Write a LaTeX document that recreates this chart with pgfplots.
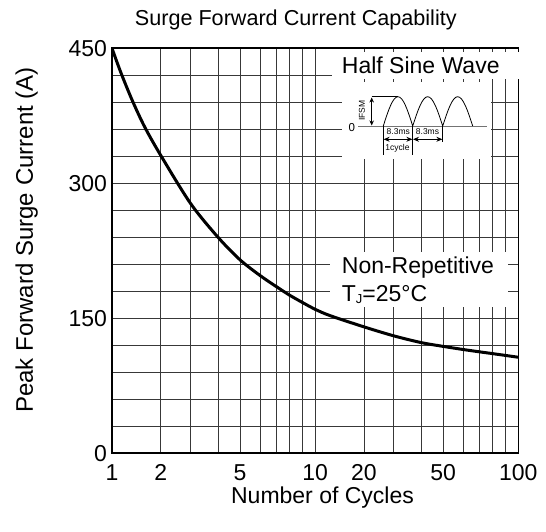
\documentclass[border=0pt]{standalone}
\usepackage{fontspec}
\setmainfont{Liberation Sans}
\usepackage{pgfplots}
\usepackage{pgfplotstable}
\pgfplotsset{compat=1.18}
\usetikzlibrary{arrows.meta}

% columns: number of cycles, position on the chart's (non-logarithmic) cycle scale, current
\pgfplotstableread{
n pos I
1 0 450
1.2 0.042 424
1.45 0.098 393
1.7 0.160 363
2 0.240 331
3 0.387 277.5
4 0.522 240
5 0.630 215
6 0.729 197.5
7 0.807 185.5
8 0.872 176
9 0.938 167.5
10 1.000 160
13 1.073 153
20 1.240 140.5
30 1.387 130.5
40 1.522 123
50 1.630 118.8
60 1.729 115.3
70 1.807 112.8
80 1.872 110.8
90 1.938 108.7
100 2.000 106.7
}\surge

\newcommand{\bigfnt}{\fontsize{23}{27}\selectfont}
\newcommand{\smallfnt}{\fontsize{8.5}{10}\selectfont}

\begin{document}
\begin{tikzpicture}
\begin{axis}[
  name=ax,
  at={(0,0)}, anchor=south west,
  width=406.3pt, height=405pt, scale only axis,
  xmin=0, xmax=2, ymin=0, ymax=450,
  xtick={0,0.240,0.387,0.522,0.630,0.729,0.807,0.872,0.938,1,1.240,1.387,1.522,1.630,1.729,1.807,1.872,1.938,2},
  xticklabels={1,2,,,5,,,,,10,20,,,50,,,,,100},
  ytick={0,30,...,450},
  yticklabels={0,,,,,150,,,,,300,,,,,450},
  grid=major,
  major grid style={black!78, line width=0.8pt},
  axis line style={black, line width=1.6pt},
  tick style={draw=none},
  /pgf/number format/assume math mode=true,
  ticklabel style={font=\bigfnt},
  xticklabel style={yshift=-8pt},
  yticklabel style={xshift=-1.5pt},
]
\addplot[black, line width=3pt, smooth] table[x=pos, y=I] {\surge};
\end{axis}

\begin{scope}[x=1pt, y=-1pt, shift={(-112pt,453.3pt)}]
  % white label boxes over the grid
  \fill[white] (331.7,52) rectangle (521,79);
  \fill[white] (341.7,82.5) rectangle (491,159.5);
  \fill[white] (330,252) rectangle (507.5,306.7);

  % titles and labels
  \node[anchor=base, inner sep=0pt, font=\fontsize{21.6}{25}\selectfont] at (295.8,25.5) {Surge Forward Current Capability};
  \node[anchor=base, inner sep=0pt, font=\bigfnt] at (322.5,504) {Number of Cycles};
  \node[anchor=base, rotate=90, inner sep=0pt, font=\fontsize{24}{28}\selectfont] at (33,240) {Peak Forward Surge Current (A)};

  \node[anchor=base west, inner sep=0pt, font=\bigfnt] at (341.7,73.3) {Half Sine Wave};
  \node[anchor=base west, inner sep=0pt, font=\bigfnt] at (341.7,273.3) {Non-Repetitive};
  \node[anchor=base west, inner sep=0pt, font=\bigfnt] at (341.7,301.7) {T\raisebox{-1.5pt}{\fontsize{13}{14}\selectfont J}=25°C};

  % half sine wave sketch
  \draw[black!55, line width=0.8pt] (358.3,126) -- (486.7,126);
  \draw[black, line width=0.8pt] (383.3,126) sin (398,96.7) cos (412.7,126)
                                 sin (427.7,96.7) cos (442.7,126)
                                 sin (457.7,96.7) cos (472.7,126);
  \draw[black, line width=0.7pt] (383.3,126) -- (383.3,155.5);
  \draw[black, line width=0.7pt] (412.7,126) -- (412.7,155.5);
  \draw[black, line width=0.7pt] (442.7,126) -- (442.7,142);
  \draw[black, line width=0.7pt] (371.7,96.7) -- (398,96.7);
  \draw[black, line width=0.8pt, {Stealth[length=5pt,width=4.5pt]}-{Stealth[length=5pt,width=4.5pt]}] (371.7,97.5) -- (371.7,125.5);
  \draw[black, line width=0.8pt, {Stealth[length=6pt,width=5pt]}-{Stealth[length=6pt,width=5pt]}] (383.6,139.3) -- (412.4,139.3);
  \draw[black, line width=0.8pt, {Stealth[length=6pt,width=5pt]}-{Stealth[length=6pt,width=5pt]}] (413,139.3) -- (442.4,139.3);
  \node[inner sep=0pt, font=\smallfnt] at (398.3,131.5) {8.3ms};
  \node[inner sep=0pt, font=\smallfnt] at (427.5,131.5) {8.3ms};
  \node[inner sep=0pt, font=\smallfnt] at (397.5,148.3) {1cycle};
  \node[inner sep=0pt, rotate=90, font=\smallfnt] at (362,110.8) {IFSM};
  \node[inner sep=0pt, font=\fontsize{11.5}{13}\selectfont] at (351.7,127.3) {0};
\end{scope}

\pgfresetboundingbox
\path[x=1pt, y=-1pt, shift={(-112pt,453.3pt)}] (0,0) rectangle (546,532);
\end{tikzpicture}
\end{document}
